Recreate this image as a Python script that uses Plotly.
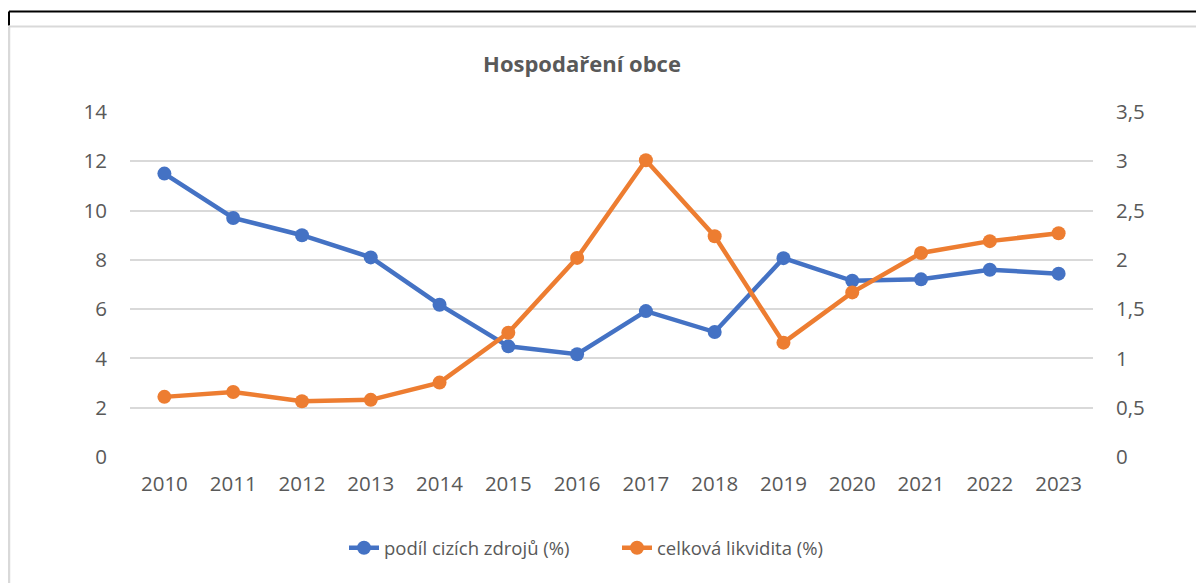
import plotly.graph_objects as go

years = ["2010", "2011", "2012", "2013", "2014", "2015", "2016",
         "2017", "2018", "2019", "2020", "2021", "2022", "2023"]
podil_cizich_zdroju = [11.5, 9.7, 9.0, 8.1, 6.18, 4.49, 4.17,
                       5.92, 5.07, 8.07, 7.15, 7.21, 7.6, 7.44]
celkova_likvidita = [0.61, 0.66, 0.565, 0.58, 0.755, 1.26, 2.02,
                     3.01, 2.24, 1.16, 1.67, 2.07, 2.19, 2.27]
left_ticks = [0, 2, 4, 6, 8, 10, 12, 14]
right_ticks = [0, 0.5, 1, 1.5, 2, 2.5, 3, 3.5]

# page body has an 8px margin, so figure coords = page coords - 8
OFF = 8
W, H = 1204 - OFF, 583 - OFF
L, R, T, B = 130 - OFF, 1093 - OFF, 111.5 - OFF, 456.7 - OFF
PW, PH = R - L, B - T

def px(x):
    return (x - OFF - L) / PW

def py(y):
    return (B - (y - OFF)) / PH

TXT = "#595959"
FONT = "Open Sans"
BLUE = "#4472C4"
ORANGE = "#ED7D31"
GRID = "#D9D9D9"

fig = go.Figure()
fig.add_trace(go.Scatter(
    x=years, y=podil_cizich_zdroju, name="podíl cizích zdrojů (%)",
    mode="lines+markers", line=dict(color=BLUE, width=4.5),
    marker=dict(color=BLUE, size=14), yaxis="y"))
fig.add_trace(go.Scatter(
    x=years, y=celkova_likvidita, name="celková likvidita (%)",
    mode="lines+markers", line=dict(color=ORANGE, width=4.5),
    marker=dict(color=ORANGE, size=14), yaxis="y2"))

shapes = [
    dict(type="line", xref="paper", yref="paper", x0=px(9), x1=px(1204), y0=py(11), y1=py(11),
         line=dict(color="black", width=2)),
    dict(type="line", xref="paper", yref="paper", x0=px(9), x1=px(9), y0=py(11), y1=py(25),
         line=dict(color="black", width=2)),
    dict(type="line", xref="paper", yref="paper", x0=px(9), x1=px(1204), y0=py(26), y1=py(26),
         line=dict(color=GRID, width=2)),
    dict(type="line", xref="paper", yref="paper", x0=px(9), x1=px(9), y0=py(26), y1=py(583),
         line=dict(color=GRID, width=2.5)),
]

fig.update_layout(
    width=W, height=H,
    margin=dict(l=L, r=W - R, t=T, b=H - B, pad=0),
    paper_bgcolor="white", plot_bgcolor="white",
    separators=", ",
    font=dict(family=FONT, size=20, color=TXT),
    title=dict(text="<b>Hospodaření obce</b>", x=(582 - OFF) / W, xanchor="center",
               y=1 - (64 - OFF) / H, yanchor="middle", font=dict(family=FONT, size=22, color=TXT)),
    xaxis=dict(type="category", range=[-0.5, 13.5], showgrid=False, showline=False,
               zeroline=False, ticks="", ticklabelstandoff=12,
               tickfont=dict(family=FONT, size=20.5, color=TXT)),
    yaxis=dict(range=[0, 14], tickvals=left_ticks, showgrid=True, gridcolor=GRID, gridwidth=1.5,
               zeroline=False, showline=False, ticks="", ticklabelstandoff=22,
               tickfont=dict(family=FONT, size=20.5, color=TXT)),
    yaxis2=dict(range=[0, 3.5], tickvals=right_ticks, overlaying="y", side="right",
                showgrid=False, zeroline=False, showline=False, ticks="", ticklabelstandoff=22,
                tickfont=dict(family=FONT, size=20.5, color=TXT)),
    legend=dict(orientation="h", x=px(344), xanchor="left", y=py(548), yanchor="middle",
                font=dict(family=FONT, size=18.5, color=TXT), bgcolor="rgba(0,0,0,0)",
                entrywidth=228, entrywidthmode="pixels"),
    shapes=shapes,
    showlegend=True,
)

fig.write_html("out.html")
